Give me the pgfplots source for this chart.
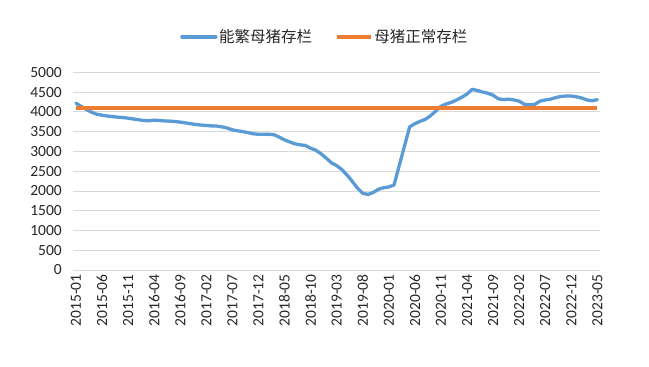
\documentclass[border=0pt]{standalone}
\usepackage{pgfplots}
\usepackage{pgfplotstable}
\pgfplotsset{compat=1.18}
\usepackage{fontspec}
\setmainfont{Carlito}
\newfontfamily\cjk{Noto Sans CJK SC}
\definecolor{xlblue}{HTML}{5B9BD5}
\definecolor{xlorange}{HTML}{ED7D31}
\definecolor{gridgray}{HTML}{D9D9D9}
\pgfplotstableread{
i sows normal
0 4220 4100
1 4140 4100
2 4060 4100
3 3990 4100
4 3940 4100
5 3915 4100
6 3895 4100
7 3880 4100
8 3865 4100
9 3855 4100
10 3840 4100
11 3820 4100
12 3800 4100
13 3780 4100
14 3775 4100
15 3790 4100
16 3780 4100
17 3770 4100
18 3765 4100
19 3755 4100
20 3740 4100
21 3720 4100
22 3700 4100
23 3680 4100
24 3665 4100
25 3655 4100
26 3645 4100
27 3640 4100
28 3620 4100
29 3590 4100
30 3545 4100
31 3520 4100
32 3500 4100
33 3475 4100
34 3445 4100
35 3432 4100
36 3432 4100
37 3432 4100
38 3420 4100
39 3360 4100
40 3290 4100
41 3240 4100
42 3190 4100
43 3165 4100
44 3150 4100
45 3080 4100
46 3030 4100
47 2940 4100
48 2830 4100
49 2710 4100
50 2640 4100
51 2540 4100
52 2400 4100
53 2240 4100
54 2070 4100
55 1940 4100
56 1910 4100
57 1960 4100
58 2040 4100
59 2080 4100
60 2100 4100
61 2150 4100
62 2640 4100
63 3130 4100
64 3620 4100
65 3700 4100
66 3760 4100
67 3810 4100
68 3900 4100
69 4020 4100
70 4140 4100
71 4200 4100
72 4240 4100
73 4300 4100
74 4370 4100
75 4450 4100
76 4570 4100
77 4540 4100
78 4500 4100
79 4470 4100
80 4420 4100
81 4330 4100
82 4310 4100
83 4320 4100
84 4300 4100
85 4270 4100
86 4190 4100
87 4180 4100
88 4190 4100
89 4270 4100
90 4300 4100
91 4320 4100
92 4360 4100
93 4390 4100
94 4400 4100
95 4400 4100
96 4380 4100
97 4350 4100
98 4300 4100
99 4280 4100
100 4310 4100
}\datatable
\begin{document}
\begin{tikzpicture}
\begin{axis}[
  at={(0,0)}, anchor=south west,
  scale only axis, width=526.7bp, height=197.7bp,
  xmin=-0.5, xmax=100.5, ymin=0, ymax=5000,
  ytick={0,500,...,5000},
  xtick={0,5,...,100},
  xticklabels={2015-01,2015-06,2015-11,2016-04,2016-09,2017-02,2017-07,2017-12,2018-05,2018-10,2019-03,2019-08,2020-01,2020-06,2020-11,2021-04,2021-09,2022-02,2022-07,2022-12,2023-05},
  ymajorgrids,
  grid style={draw=gridgray, line width=0.75bp},
  axis line style={draw=none},
  major tick length=0pt,
  /pgf/number format/1000 sep={},
  /pgf/number format/assume math mode=true,
  tick label style={font=\fontsize{15.5bp}{18bp}\selectfont, text=black!85},
  xticklabel style={rotate=90, anchor=east, xshift=-1bp},
  yticklabel style={anchor=east, xshift=-8bp},
  legend style={at={(0.477,1.179)}, anchor=center, draw=none, fill=none,
    font=\cjk\fontsize{15.5bp}{18bp}\selectfont, text=black!85,
    /tikz/every even column/.append style={column sep=22bp},
    nodes={inner xsep=1.5bp}},
  legend columns=2,
  legend image code/.code={\draw[#1] (0bp,0bp) -- (34bp,0bp);},
]
\addplot[xlblue, line width=3.3bp, line join=round, line cap=round, no markers] table[x=i, y=sows] {\datatable};
\addlegendentry{能繁母猪存栏}
\addplot[xlorange, line width=3.3bp, no markers] table[x=i, y=normal] {\datatable};
\addlegendentry{母猪正常存栏}
\end{axis}
\pgfresetboundingbox
\useasboundingbox (-73.3bp,-97bp) rectangle (575.7bp,270bp);
\end{tikzpicture}
\end{document}
